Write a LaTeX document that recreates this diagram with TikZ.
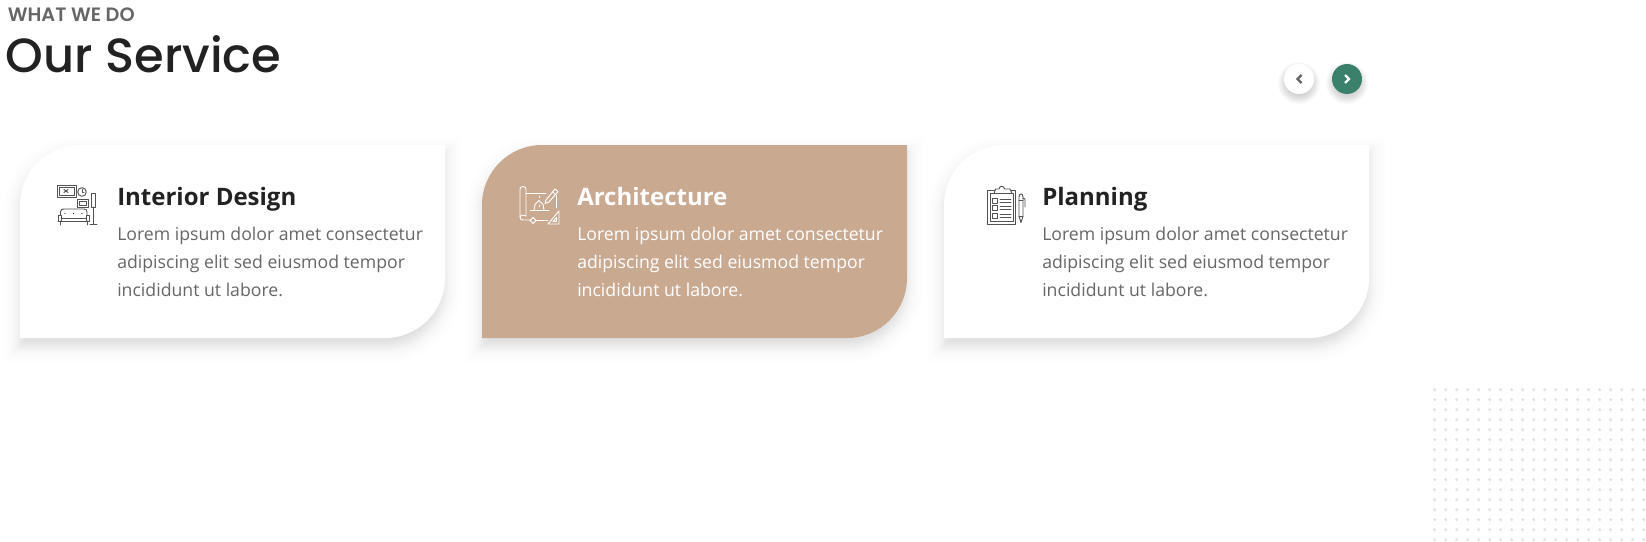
\documentclass[tikz,border=0pt]{standalone}
\usepackage{fontspec}
\setmainfont{Open Sans}
\newfontfamily\popfont{Poppins Medium}
\newfontfamily\popsemi{Poppins SemiBold}
\definecolor{tancard}{HTML}{CAA991}
\definecolor{greenbtn}{HTML}{3A806B}
\definecolor{inkdark}{HTML}{222222}
\definecolor{inkgray}{HTML}{666666}
\definecolor{dotgray}{HTML}{E3E3E3}
\tikzset{
  cardtitle/.style={anchor=base west,inner sep=0pt,font=\fontsize{18}{21}\selectfont\bfseries},
  cardline/.style={anchor=base west,inner sep=0pt,font=\fontsize{13.25}{16}\selectfont},
  iconline/.style={line width=0.7pt,line cap=round,line join=round},
}
% one card outline: left edge, right edge
\newcommand{\cardoutline}[2]{(#1,338) [rounded corners=45pt] -- (#1,145) [sharp corners] -- (#2,145) [rounded corners=45pt] -- (#2,338) [sharp corners] -- cycle}
% soft shadow layer: left edge, right edge, grow
\newcommand{\shadowlayer}[3]{(#1-#3,346+#3) [rounded corners={45pt+0.75pt*#3}] -- (#1-#3,153-#3) [sharp corners] -- (#2+#3,153-#3) [rounded corners={45pt+0.75pt*#3}] -- (#2+#3,346+#3) [sharp corners] -- cycle}
\begin{document}
\begin{tikzpicture}[x=0.75pt,y=-0.75pt]
  \useasboundingbox (0,0) rectangle (1646,542);
  % heading
  \node[anchor=base west,inner sep=0pt,text=inkgray,font=\fontsize{14.5}{16}\popsemi] (kicker) at (7.5,21.3) {WHAT WE DO};
  \node[anchor=base west,inner sep=0pt,text=inkdark,font=\fontsize{36}{40}\popfont] (heading) at (5.5,73) {Our Service};
  % dots
  \foreach \row in {0,...,15}
    \foreach \col in {0,...,19}
      \fill[dotgray] (1434.7+11*\col,389.7+10*\row) circle (1.7);
  % shadows
  \foreach \g in {-16,-12,-9,-7,-5,-4,-3,-2,-1,0,1,2,3,4,5,7,9,12,16}
    \foreach \xa/\xb in {20/445,482/907,944/1369}
      \fill[black,opacity=0.006] \shadowlayer{\xa}{\xb}{\g};
  % cards
  \fill[white] \cardoutline{20}{445};
  \fill[tancard] \cardoutline{482}{907};
  \fill[white] \cardoutline{944}{1369};
  % card text
  \foreach \nm/\x/\ttl/\tcol/\bcol in {a/117/Interior Design/inkdark/inkgray,b/577/Architecture/white/white,c/1042/Planning/inkdark/inkgray}{
    \node[cardtitle,text=\tcol] (title\nm) at (\x,205) {\ttl};
    \node[cardline,text=\bcol] (lineone\nm) at (\x,240) {Lorem ipsum dolor amet consectetur};
    \node[cardline,text=\bcol] (linetwo\nm) at (\x,268) {adipiscing elit sed eiusmod tempor};
    \node[cardline,text=\bcol] (linethree\nm) at (\x,296) {incididunt ut labore.};
  }
  % arrow buttons
  \foreach \i in {1,...,10}{
    \fill[black,opacity=0.02] (1299,83) circle (11+1*\i);
    \fill[black,opacity=0.02] (1347,83) circle (11+1*\i);
  }
  \fill[white] (1299,79) circle (15);
  \fill[greenbtn] (1347,79) circle (15);
  \draw[inkgray,line width=1.7pt] (1301.5,75) -- (1297.5,79) -- (1301.5,83);
  \draw[white,line width=1.7pt] (1345,75) -- (1349,79) -- (1345,83);
  % sofa icon
  \begin{scope}[iconline,draw=inkgray!70!inkdark]
    \draw (57.5,185) rectangle (76,197);
    \draw (59.5,187) rectangle (74,195);
    \draw (64,189.5) -- (68,192.5) (68,189.5) -- (64,192.5);
    \draw (82,192) circle (4.3);
    \draw (82,189.5) -- (82,192) -- (84,192);
    \draw (77.5,199) rectangle (88,207.5);
    \draw (79.5,201) rectangle (86,205.5);
    \draw (91,193) rectangle (95,207);
    \draw (93,207) -- (93,224);
    \draw (90,224.5) -- (97,224.5);
    \draw (60.5,215) -- (60.5,212) .. controls (60.5,209.5) and (62,209) .. (64,209) -- (84,209) .. controls (86,209) and (87,210) .. (87,212) -- (87,215);
    \draw (58,215) rectangle (61,221) (86.5,215) rectangle (89,221);
    \draw (58,221) -- (89,221) (61,218) -- (86.5,218);
    \draw (60,221) -- (60,225) (87,221) -- (87,225);
    \fill[inkdark] (65,213.5) circle (0.6) (73.5,213.5) circle (0.6) (82,213.5) circle (0.6);
  \end{scope}
  % plan icon
  \begin{scope}[iconline,draw=white]
    \draw (526,216) -- (526,189.5) .. controls (526,187.5) and (525,186.5) .. (523,186.5) .. controls (521,186.5) and (520,187.5) .. (520,189.5) -- (520,217) .. controls (520,219) and (521,220) .. (523,220) -- (530,220);
    \draw (520,217) .. controls (520,215) and (522,214.5) .. (526,216);
    \draw (526,193) -- (546,193);
    \draw (556.5,195) -- (556.5,208);
    \draw (536,220) -- (548,220);
    \draw (546,200) -- (555,189) -- (558,191.5) -- (549,202) -- (545,203.5) -- cycle;
    \draw (552.5,192) -- (555.5,194.5);
    \draw (548,224) -- (559,211) -- (559,224) -- cycle;
    \draw (553,221.5) -- (556.5,217.5) -- (556.5,221.5) -- cycle;
    \draw (533,217.5) -- (536,220.5) -- (533,223.5) -- (530,220.5) -- cycle;
    \draw (530,210.5) -- (549,210.5);
    \draw (534,210) -- (535,204.5) -- (539,200.5) -- (543,204.5) -- (544,210);
    \draw (539,196) -- (539,197.5) (539,205) -- (539,207);
  \end{scope}
  % clipboard icon
  \begin{scope}[iconline,draw=inkgray!70!inkdark]
    \draw (987.5,190) rectangle (1015.5,224);
    \draw (990,193) rectangle (1013,221);
    \draw[fill=white] (994,193.5) -- (995.5,189) -- (999,189) .. controls (999,185.5) and (1004.5,185.5) .. (1004.5,189) -- (1010,189) -- (1012,193.5) -- cycle;
    \draw (992.5,198) rectangle (997,203);
    \draw (992.5,205.5) rectangle (997,210.5);
    \draw (992.5,213) rectangle (997,218);
    \draw (1000,199) -- (1011,199) (1000,202) -- (1011,202);
    \draw (1000,206.5) -- (1011,206.5) (1000,209.5) -- (1011,209.5);
    \draw (1000,214) -- (1011,214) (1000,217) -- (1011,217);
    \draw (1019,197) .. controls (1019,193) and (1023,193) .. (1023,197) -- (1023,216) -- (1021,222.5) -- (1019,216) -- cycle;
    \draw (1019,200) -- (1023,200) (1019,216) -- (1023,216);
    \draw (1023,198) -- (1025,199) -- (1025,207);
  \end{scope}
\end{tikzpicture}
\end{document}
